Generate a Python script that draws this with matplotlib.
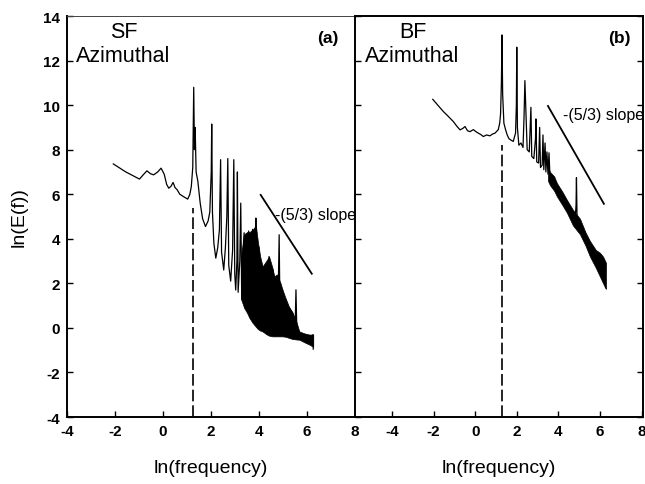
import matplotlib
matplotlib.use("Agg")
import matplotlib.pyplot as plt

plt.rcParams['font.family'] = ['Liberation Sans', 'DejaVu Sans']
plt.rcParams['axes.unicode_minus'] = False

# ---------------- data ----------------
yticks = [-4, -2, 0, 2, 4, 6, 8, 10, 12, 14]
xticks = [-4, -2, 0, 2, 4, 6, 8]

# SF azimuthal spectrum (panel a)
sf_x = [-2.07, -1.55, -0.98, -0.8, -0.67, -0.52, -0.39, -0.22, -0.08, 0.05, 0.15, 0.24, 0.33, 0.42,
        0.5, 0.59, 0.7, 0.8, 0.92, 1.03, 1.12, 1.18, 1.24, 1.28, 1.31, 1.34, 1.38, 1.45, 1.55, 1.65,
        1.77, 1.88, 1.95, 2.01, 2.03, 2.06, 2.12, 2.2, 2.28, 2.35, 2.4, 2.44, 2.53, 2.6, 2.66, 2.7,
        2.74, 2.82, 2.9, 2.95, 2.99, 3.03, 3.08, 3.1, 3.13, 3.2, 3.24, 3.28, 3.33, 3.38, 3.42, 3.47,
        3.53, 3.57, 3.62, 3.68, 3.73, 3.78, 3.84, 3.87, 3.91, 4.0, 4.1, 4.15, 4.25, 4.35, 4.42, 4.5,
        4.58, 4.63, 4.72, 4.8, 4.84, 4.88, 4.98, 5.1, 5.25, 5.4, 5.5, 5.54, 5.58, 5.68, 5.8, 5.95,
        6.1, 6.2, 6.25, 6.26]
sf_y = [7.36, 7.0, 6.68, 6.9, 7.05, 6.92, 6.87, 7.0, 7.17, 6.9, 6.45, 6.27, 6.35, 6.53,
        6.3, 6.2, 6.0, 5.93, 5.85, 5.78, 6.0, 6.35, 7.2, 10.8, 8.0, 9.0, 7.0, 6.6, 5.6, 4.9,
        4.55, 4.8, 5.2, 7.0, 9.15, 5.2, 3.8, 3.13, 3.6, 4.4, 7.55, 3.4, 2.6, 3.6, 5.0, 7.6,
        2.8, 2.1, 3.5, 7.55, 2.4, 1.7, 3.0, 7.0, 1.6, 3.0, 5.6, 1.3, 3.4, 4.27, 0.9, 3.0,
        0.7, 4.35, 0.5, 3.2, 4.42, 0.3, 3.0, 4.93, 0.1, 3.6, 0.0, 2.76, 0.5, 2.5, 3.2, 0.0,
        2.6, 2.31, 0.0, 1.5, 4.18, 0.0, 1.71, -0.1, 0.9, 0.68, -0.2, 1.71, -0.3, -0.16, -0.5, -0.3,
        -0.6, -0.4, -0.3, -0.95]
sf_band_x = [3.25, 3.38, 3.5, 3.6, 3.73, 3.87, 3.95, 4.05, 4.15, 4.3, 4.42, 4.56, 4.63, 4.75,
             4.9, 4.98, 5.12, 5.25, 5.4, 5.55, 5.68, 5.9, 6.1, 6.26]
sf_band_hi = [3.2, 4.2, 4.3, 4.3, 4.4, 4.6, 3.9, 3.2, 2.76, 3.0, 3.2, 2.7, 2.31, 2.4,
              2.0, 1.71, 1.3, 0.95, 0.68, 0.3, -0.16, -0.25, -0.3, -0.3]
sf_band_lo = [1.3, 0.9, 0.68, 0.45, 0.23, 0.05, -0.05, -0.12, -0.16, -0.28, -0.35, -0.38, -0.38, -0.38,
              -0.38, -0.38, -0.4, -0.45, -0.5, -0.52, -0.53, -0.65, -0.75, -0.85]

# BF azimuthal spectrum (panel b)
bf_x = [-2.04, -1.8, -1.53, -1.3, -1.05, -0.88, -0.73, -0.6, -0.49, -0.37, -0.25, -0.09, 0.05, 0.15,
        0.27, 0.39, 0.55, 0.71, 0.83, 0.95, 1.11, 1.18, 1.22, 1.26, 1.29, 1.32, 1.38, 1.46, 1.54, 1.62,
        1.7, 1.83, 1.94, 1.98, 2.0, 2.03, 2.1, 2.2, 2.3, 2.35, 2.39, 2.5, 2.6, 2.68, 2.72, 2.82,
        2.9, 2.92, 2.96, 3.05, 3.1, 3.14, 3.22, 3.26, 3.3, 3.36, 3.4, 3.45, 3.5, 3.55, 3.6, 3.7,
        3.8, 3.93, 4.05, 4.2, 4.35, 4.5, 4.65, 4.8, 4.85, 4.87, 4.9, 5.0, 5.15, 5.3, 5.45, 5.6,
        5.75, 5.9, 6.05, 6.2, 6.27]
bf_y = [10.26, 10.0, 9.71, 9.5, 9.26, 9.05, 8.89, 8.95, 9.04, 8.85, 8.81, 8.9, 8.8, 8.74,
        8.68, 8.59, 8.66, 8.62, 8.7, 8.74, 8.9, 9.2, 9.6, 11.0, 13.15, 10.5, 9.19, 8.9, 8.66, 8.5,
        8.44, 8.37, 8.74, 10.0, 12.6, 9.0, 8.2, 8.3, 8.1, 9.5, 11.1, 8.0, 7.9, 9.9, 7.7, 7.6,
        8.5, 9.38, 7.45, 7.4, 9.0, 7.2, 7.3, 8.66, 7.1, 8.3, 7.0, 7.9, 6.9, 7.86, 6.7, 6.6,
        6.4, 6.2, 6.1, 5.8, 5.6, 5.4, 5.1, 4.8, 5.5, 6.74, 4.8, 4.5, 4.2, 4.0, 3.7, 3.5,
        3.2, 3.0, 2.8, 2.5, 1.8]
bf_band_x = [3.5, 3.6, 3.8, 3.93, 4.2, 4.41, 4.7, 5.04, 5.3, 5.52, 5.8, 6.0, 6.15, 6.29]
bf_band_hi = [7.2, 7.0, 6.8, 6.5, 6.1, 5.75, 5.3, 4.9, 4.3, 3.9, 3.5, 3.37, 3.2, 2.92]
bf_band_lo = [6.6, 6.4, 6.15, 5.9, 5.5, 5.17, 4.6, 4.2, 3.7, 3.2, 2.7, 2.3, 2.0, 1.75]

# reference lines
sf_dash_x = [1.25, 1.25]
sf_dash_y = [-4, 5.4]
bf_dash_x = [1.27, 1.27]
bf_dash_y = [-4, 8.2]
sf_slope_x = [4.07, 6.2]
sf_slope_y = [5.97, 2.43]
bf_slope_x = [3.5, 6.19]
bf_slope_y = [9.96, 5.57]

# ---------------- figure ----------------
W, H = 645, 485
fig = plt.figure(figsize=(W / 100, H / 100), dpi=100)

def pos(x0, x1, y0, y1):
    return [x0 / W, 1 - y1 / H, (x1 - x0) / W, (y1 - y0) / H]

axL = fig.add_axes(pos(67, 355, 17, 418))
axR = fig.add_axes(pos(355, 643, 17, 418))

for ax in (axL, axR):
    ax.set_ylim(-4, 14)
    ax.set_yticks(yticks)
    ax.set_xticks(xticks)
    for s in ax.spines.values():
        s.set_linewidth(1.4)
        s.set_color('black')
    ax.tick_params(direction='in', length=4, width=1.0, labelsize=11, pad=5)
    for lab in ax.get_xticklabels() + ax.get_yticklabels():
        lab.set_fontweight('bold')

axL.set_xlim(-4, 8)
axR.set_xlim(-5.78, 8.07)
axL.tick_params(axis='y', left=True, right=False, labelleft=True)
axL.tick_params(axis='x', top=False, bottom=True)
axR.tick_params(axis='y', left=True, right=True, labelleft=False)
axR.tick_params(axis='x', top=False, bottom=True)
axL.spines['top'].set_linewidth(0.7)
axL.spines['top'].set_color('#444444')
axL.spines['top'].set_linestyle((0, (3, 1)))
axL.spines['right'].set_visible(False)

lw = 0.9
# panel a
axL.plot(sf_x, sf_y, color='black', lw=lw)
axL.fill_between(sf_band_x, sf_band_lo, sf_band_hi, color='black', lw=0.5)
axL.plot(sf_dash_x, sf_dash_y, color='black', lw=1.2, dashes=(7, 2.4))
axL.plot(sf_slope_x, sf_slope_y, color='black', lw=1.3)
# panel b
axR.plot(bf_x, bf_y, color='black', lw=lw)
axR.fill_between(bf_band_x, bf_band_lo, bf_band_hi, color='black', lw=0.5)
axR.plot(bf_dash_x, bf_dash_y, color='black', lw=1.2, dashes=(7, 2.4))
axR.plot(bf_slope_x, bf_slope_y, color='black', lw=1.3)

# annotations
axL.text(4.68, 5.1, '-(5/3) slope', fontsize=11.5, va='center', ha='left', clip_on=True)
axR.text(4.2, 9.6, '-(5/3) slope', fontsize=11.5, va='center', ha='left', clip_on=True)

def ftext(px, py, s, **kw):
    fig.text(px / W, 1 - py / H, s, **kw)

ftext(110, 33, 'SF', fontsize=15.5, va='center', ha='left')
ftext(76, 56, 'Azimuthal', fontsize=15.5, va='center', ha='left')
ftext(399, 33, 'BF', fontsize=15.5, va='center', ha='left')
ftext(365, 56, 'Azimuthal', fontsize=15.5, va='center', ha='left')
ftext(328, 39, '(a)', fontsize=12.5, fontweight='bold', va='center', ha='center')
ftext(619, 39, '(b)', fontsize=12.5, fontweight='bold', va='center', ha='center')

ftext(211, 469, 'ln(frequency)', fontsize=14, va='center', ha='center')
ftext(499, 469, 'ln(frequency)', fontsize=14, va='center', ha='center')
ftext(19, 217, 'ln(E(f))', fontsize=14, va='center', ha='center', rotation=90)

fig.savefig('out.png', dpi=100)
